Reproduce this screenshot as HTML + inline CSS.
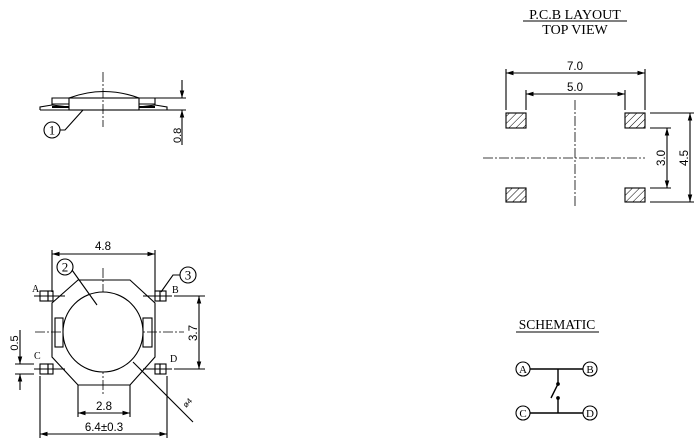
<!DOCTYPE html>
<html><head><style>body{margin:0;background:#fff}svg{display:block}</style></head><body>
<svg width="700" height="448" viewBox="0 0 700 448" xmlns="http://www.w3.org/2000/svg" font-family="Liberation Sans, sans-serif" fill="none" stroke="#000" stroke-width="1.1">
<defs>
<marker id="a" viewBox="0 0 10 10" refX="10" refY="5" markerWidth="7" markerHeight="7" orient="auto-start-reverse"><path d="M0,2 L10,5 L0,8z" fill="#000" stroke="none"/></marker>
<pattern id="h" width="5" height="5" patternUnits="userSpaceOnUse" patternTransform="rotate(45)"><line x1="0" y1="0" x2="0" y2="5" stroke="#000" stroke-width="1"/></pattern>
</defs>
<g stroke-dasharray="10,2,2,2" stroke-width="0.8">
<line x1="103" y1="72" x2="103" y2="127"/>
<line x1="103" y1="268" x2="103" y2="396"/>
<line x1="35" y1="332" x2="184" y2="332"/>
<line x1="575" y1="100" x2="575" y2="207"/>
<line x1="483" y1="158" x2="645" y2="158"/>
</g>
<!-- side view -->
<path d="M69,98 Q104,85 139,98"/>
<rect x="69" y="98" width="70" height="12"/>
<path d="M52,105 L52,98 L69,98 M52,104 L69,104 M139,104 L155,104 M155,105 L155,98 L139,98"/>
<path d="M40,110 L40,107 L52,105 L69,107 M139,107 L155,105 L167,107 L167,110 L40,110" />
<line x1="52" y1="107" x2="69" y2="107" stroke-width="2"/><line x1="139" y1="107" x2="155" y2="107" stroke-width="2"/>
<line x1="140" y1="98" x2="186" y2="98"/><line x1="150" y1="110" x2="186" y2="110"/>
<line x1="182" y1="80" x2="182" y2="98" marker-end="url(#a)"/>
<line x1="182" y1="145" x2="182" y2="110" marker-end="url(#a)"/>
<text x="0" y="0" transform="translate(181,143) rotate(-90)" font-size="11" fill="#000" stroke="none">0.8</text>
<circle cx="52" cy="130" r="8"/><text x="52" y="134.5" text-anchor="middle" font-size="13" fill="#000" stroke="none" font-family="Liberation Serif">1</text>
<path d="M60,130 L65,130 L83,110"/>
<!-- top view -->
<path d="M78,280 L130,280 L155,303 L155,357 L130,385 L78,385 L52,357 L52,303Z"/>
<rect x="55" y="318" width="8" height="29"/><rect x="143" y="318" width="9" height="29"/>
<circle cx="103" cy="332" r="40" fill="#fff"/>
<g>
<rect x="40" y="291" width="8" height="10"/><rect x="48" y="291" width="5" height="10"/><line x1="34" y1="296" x2="65" y2="296"/>
<rect x="155" y="291" width="5" height="10"/><rect x="160" y="291" width="6" height="10"/><line x1="143" y1="296" x2="172" y2="296"/>
<rect x="40" y="364" width="8" height="10"/><rect x="48" y="364" width="5" height="10"/><line x1="34" y1="369" x2="65" y2="369"/>
<rect x="155" y="364" width="5" height="10"/><rect x="160" y="364" width="6" height="10"/><line x1="143" y1="369" x2="172" y2="369"/>
</g>
<line x1="52" y1="250" x2="52" y2="292"/><line x1="155" y1="250" x2="155" y2="292"/>
<line x1="52" y1="254" x2="155" y2="254" marker-start="url(#a)" marker-end="url(#a)"/>
<text x="103" y="250" text-anchor="middle" font-size="11.5" fill="#000" stroke="none">4.8</text>
<line x1="174" y1="296" x2="205" y2="296"/><line x1="174" y1="369" x2="205" y2="369"/>
<line x1="199" y1="296" x2="199" y2="369" marker-start="url(#a)" marker-end="url(#a)"/>
<text transform="translate(197,333) rotate(-90)" text-anchor="middle" font-size="11.5" fill="#000" stroke="none">3.7</text>
<line x1="15" y1="364" x2="34" y2="364"/><line x1="15" y1="374" x2="34" y2="374"/>
<line x1="20" y1="330" x2="20" y2="364" marker-end="url(#a)"/>
<line x1="20" y1="390" x2="20" y2="374" marker-end="url(#a)"/>
<text transform="translate(18,343) rotate(-90)" text-anchor="middle" font-size="11" fill="#000" stroke="none">0.5</text>
<line x1="78" y1="385" x2="78" y2="417"/><line x1="130" y1="385" x2="130" y2="417"/>
<line x1="78" y1="413" x2="130" y2="413" marker-start="url(#a)" marker-end="url(#a)"/>
<text x="104" y="410" text-anchor="middle" font-size="11.5" fill="#000" stroke="none">2.8</text>
<line x1="40" y1="376" x2="40" y2="438"/><line x1="167" y1="376" x2="167" y2="438"/>
<line x1="40" y1="434" x2="167" y2="434" marker-start="url(#a)" marker-end="url(#a)"/>
<text x="104" y="431" text-anchor="middle" font-size="11.5" fill="#000" stroke="none">6.4±0.3</text>
<line x1="133" y1="362" x2="193" y2="422"/>
<text transform="translate(186,408) rotate(-45)" font-size="8" fill="#000" stroke="none">ø4</text>
<circle cx="65" cy="267" r="8"/><text x="65" y="271.5" text-anchor="middle" font-size="13" fill="#000" stroke="none" font-family="Liberation Serif">2</text>
<line x1="72" y1="270" x2="97" y2="305"/>
<circle cx="188" cy="275" r="8"/><text x="188" y="279.5" text-anchor="middle" font-size="13" fill="#000" stroke="none" font-family="Liberation Serif">3</text>
<path d="M180,275 L173,275 L161,292"/>
<g font-size="10" fill="#000" stroke="none" font-family="Liberation Serif">
<text x="32" y="292">A</text><text x="172" y="293">B</text><text x="34" y="359">C</text><text x="170" y="362">D</text></g>
<!-- PCB -->
<g font-family="Liberation Serif" font-size="14" fill="#000" stroke="none" text-anchor="middle">
<text x="575" y="19">P.C.B LAYOUT</text><text x="575" y="34">TOP VIEW</text>
<text x="557" y="329" font-size="13.5">SCHEMATIC</text></g>
<line x1="523" y1="21" x2="627" y2="21"/><line x1="516" y1="332" x2="599" y2="332"/>
<g fill="url(#h)">
<rect x="506" y="113" width="20" height="15"/><rect x="625" y="113" width="20" height="15"/>
<rect x="506" y="188" width="20" height="14"/><rect x="625" y="188" width="20" height="14"/></g>
<line x1="506" y1="69" x2="506" y2="110"/><line x1="645" y1="69" x2="645" y2="110"/>
<line x1="526" y1="90" x2="526" y2="110"/><line x1="625" y1="90" x2="625" y2="110"/>
<line x1="506" y1="73" x2="645" y2="73" marker-start="url(#a)" marker-end="url(#a)"/>
<line x1="526" y1="94" x2="625" y2="94" marker-start="url(#a)" marker-end="url(#a)"/>
<text x="575" y="70" text-anchor="middle" font-size="11.5" fill="#000" stroke="none">7.0</text>
<text x="575" y="91" text-anchor="middle" font-size="11.5" fill="#000" stroke="none">5.0</text>
<line x1="650" y1="113" x2="694" y2="113"/><line x1="650" y1="202" x2="694" y2="202"/>
<line x1="650" y1="128" x2="671" y2="128"/><line x1="650" y1="188" x2="671" y2="188"/>
<line x1="667" y1="128" x2="667" y2="188" marker-start="url(#a)" marker-end="url(#a)"/>
<line x1="690" y1="113" x2="690" y2="202" marker-start="url(#a)" marker-end="url(#a)"/>
<text transform="translate(665,158) rotate(-90)" text-anchor="middle" font-size="11.5" fill="#000" stroke="none">3.0</text>
<text transform="translate(688,158) rotate(-90)" text-anchor="middle" font-size="11.5" fill="#000" stroke="none">4.5</text>
<!-- schematic -->
<g font-family="Liberation Serif" font-size="11" fill="#000" stroke="none" text-anchor="middle">
<text x="523" y="373">A</text><text x="590" y="373">B</text><text x="523" y="417">C</text><text x="590" y="417">D</text></g>
<circle cx="523" cy="369" r="7"/><circle cx="590" cy="369" r="7"/><circle cx="523" cy="413" r="7"/><circle cx="590" cy="413" r="7"/>
<path d="M530,369 L583,369 M558,369 L558,384 L551,398 M558,399 L558,413 M530,413 L583,413" stroke-width="1.4"/>
<circle cx="558" cy="384" r="1.3" fill="#000"/><circle cx="558" cy="398" r="1.3" fill="#000"/>
</svg>
</body></html>
